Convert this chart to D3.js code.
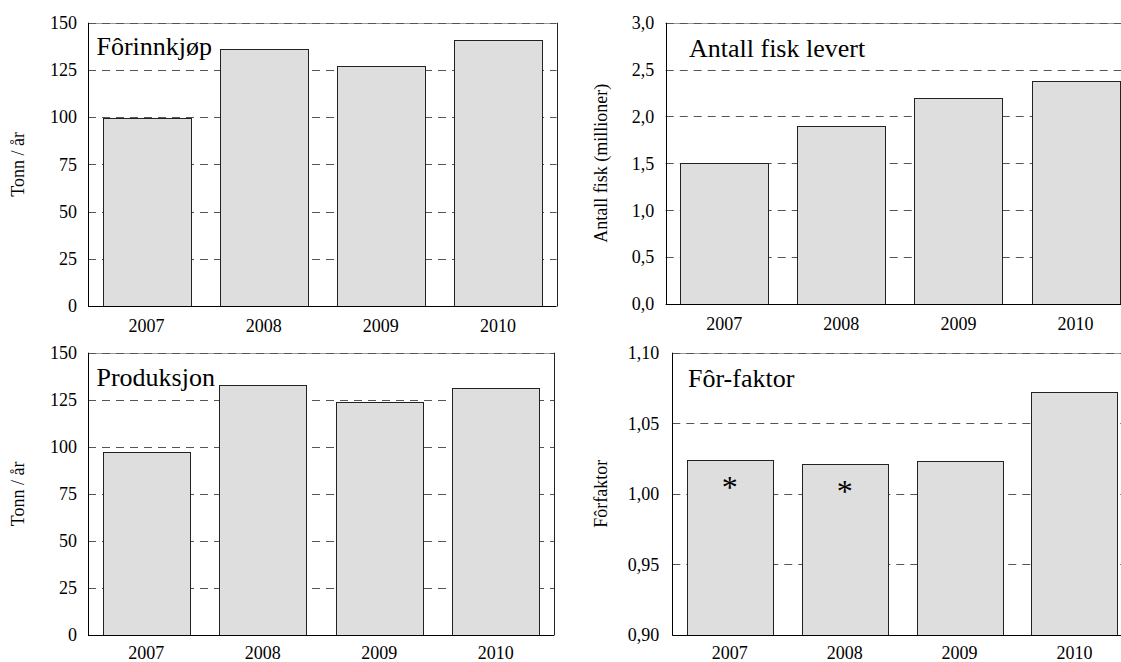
<!DOCTYPE html>
<html>
<head>
<meta charset="utf-8">
<script src="https://cdn.jsdelivr.net/npm/d3@7"></script>
<style>
  html, body { margin: 0; padding: 0; background: #fff; }
  svg { display: block; }
</style>
</head>
<body>
<svg id="chart" width="1121" height="662"></svg>
<script>
// ---- data ----
const years = ["2007", "2008", "2009", "2010"];
const forinnkjop = [99.5, 136, 127, 141];
const antallFisk = [1.50, 1.90, 2.20, 2.38];
const produksjon = [97, 133, 124, 131.5];
const forfaktor = [1.024, 1.021, 1.023, 1.072];
const asteriskYears = ["2007", "2008"];

const tonnTicks = [0, 25, 50, 75, 100, 125, 150];
const fiskTicks = [0, 0.5, 1.0, 1.5, 2.0, 2.5, 3.0];
const faktorTicks = [0.90, 0.95, 1.00, 1.05, 1.10];

const titles = ["Fôrinnkjøp", "Antall fisk levert", "Produksjon", "Fôr-faktor"];
const yLabels = ["Tonn / år", "Antall fisk (millioner)", "Tonn / år", "Fôrfaktor"];

const FONT = "'Liberation Serif', 'Times New Roman', Times, 'DejaVu Serif', serif";

// ---- layout ----
const svg = d3.select("#chart").attr("font-family", FONT);

function fmt(decimals) {
  return v => d3.format("." + decimals + "f")(v).replace(".", ",");
}

function panel(opts) {
  const { x0, x1, y0, y1, values, ticks, domain, decimals, title, titleX, titleY,
          yLabel, yLabelX, tickGap, marks } = opts;
  const g = svg.append("g");
  const x = d3.scaleBand().domain(years).range([x0, x1]).paddingInner(0.25).paddingOuter(0.125);
  const y = d3.scaleLinear().domain(domain).range([y1, y0]);

  // top border (solid grey under the dashed grid)
  g.append("line").attr("x1", x0).attr("x2", x1)
    .attr("y1", Math.round(y(domain[1])) + 0.5).attr("y2", Math.round(y(domain[1])) + 0.5)
    .attr("stroke", "#9a9a9a").attr("stroke-width", 1);

  // dashed grid lines
  g.selectAll(".grid").data(ticks.filter(t => t !== domain[0])).join("line")
    .attr("x1", x0).attr("x2", x1)
    .attr("y1", d => Math.round(y(d)) + 0.5).attr("y2", d => Math.round(y(d)) + 0.5)
    .attr("stroke", "#555").attr("stroke-width", 1).attr("stroke-dasharray", "8,6");

  // bars
  g.selectAll(".bar").data(years.map((yr, i) => ({ yr, v: values[i] }))).join("rect")
    .attr("x", d => Math.round(x(d.yr)) + 0.5)
    .attr("y", d => Math.round(y(d.v)) + 0.5)
    .attr("width", Math.round(x.bandwidth()))
    .attr("height", d => Math.round(y1) - Math.round(y(d.v)))
    .attr("fill", "#dedede").attr("stroke", "#222").attr("stroke-width", 1);

  // axes frame
  g.append("line").attr("x1", Math.round(x0) + 0.5).attr("x2", Math.round(x0) + 0.5)
    .attr("y1", y0).attr("y2", y1 + 0.5).attr("stroke", "#000");
  g.append("line").attr("x1", x0).attr("x2", x1)
    .attr("y1", Math.round(y1) + 0.5).attr("y2", Math.round(y1) + 0.5).attr("stroke", "#000");
  g.append("line").attr("x1", Math.round(x1) + 0.5).attr("x2", Math.round(x1) + 0.5)
    .attr("y1", y0).attr("y2", y1 + 0.5).attr("stroke", "#222");

  // y tick labels
  const f = fmt(decimals);
  g.selectAll(".ytl").data(ticks).join("text")
    .attr("x", x0 - tickGap).attr("y", d => y(d)).attr("dy", "0.35em")
    .attr("text-anchor", "end").attr("font-size", 18).text(d => f(d));

  // x tick labels
  g.selectAll(".xtl").data(years).join("text")
    .attr("x", d => x(d) + x.bandwidth() / 2).attr("y", Math.min(y1 + 26, 659))
    .attr("text-anchor", "middle").attr("font-size", 18).text(d => d);

  // title
  g.append("text").attr("x", titleX).attr("y", titleY).attr("font-size", 26).text(title);

  // y label
  g.append("text")
    .attr("transform", `translate(${yLabelX},${(y0 + y1) / 2}) rotate(-90)`)
    .attr("text-anchor", "middle").attr("font-size", 18).text(yLabel);

  // asterisk marks
  if (marks) {
    g.selectAll(".ast").data(marks).join("text")
      .attr("x", d => x(d) + x.bandwidth() / 2)
      .attr("y", d => y(values[years.indexOf(d)]) + 38)
      .attr("text-anchor", "middle").attr("font-size", 32).text("*");
  }
}

panel({ x0: 88, x1: 556.5, y0: 22.7, y1: 306, values: forinnkjop, ticks: tonnTicks, domain: [0, 150],
  decimals: 0, title: titles[0], titleX: 96.5, titleY: 55, yLabel: yLabels[0], yLabelX: 23.5, tickGap: 11 });
panel({ x0: 665.7, x1: 1134, y0: 22.7, y1: 304, values: antallFisk, ticks: fiskTicks, domain: [0, 3],
  decimals: 1, title: titles[1], titleX: 689, titleY: 56.5, yLabel: yLabels[1], yLabelX: 606.5, tickGap: 11.5 });
panel({ x0: 88, x1: 554, y0: 352.7, y1: 635, values: produksjon, ticks: tonnTicks, domain: [0, 150],
  decimals: 0, title: titles[2], titleX: 96.5, titleY: 386, yLabel: yLabels[2], yLabelX: 23.5, tickGap: 11 });
panel({ x0: 672.3, x1: 1132, y0: 352.7, y1: 635, values: forfaktor, ticks: faktorTicks, domain: [0.90, 1.10],
  decimals: 2, title: titles[3], titleX: 688, titleY: 387, yLabel: yLabels[3], yLabelX: 606.5, tickGap: 13, marks: asteriskYears });
</script>
</body>
</html>
